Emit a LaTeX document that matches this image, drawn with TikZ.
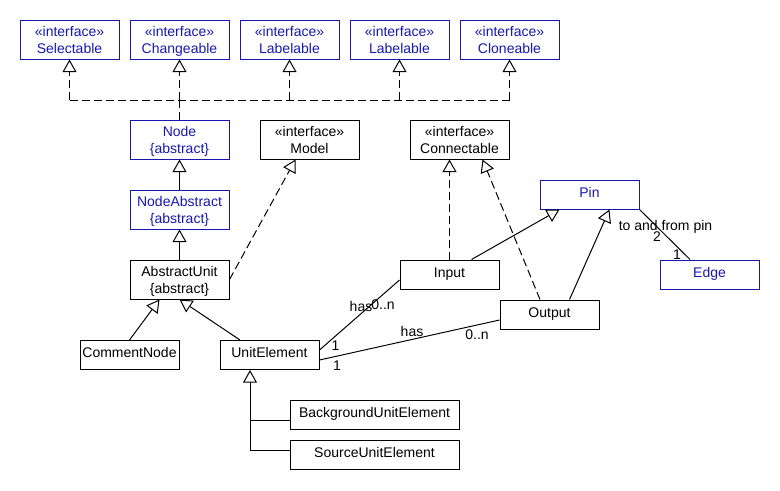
\documentclass[tikz,border=0pt]{standalone}
\usepackage{fontspec}
\setmainfont{Liberation Sans}
\usetikzlibrary{arrows.meta,calc}
\definecolor{umlblue}{RGB}{24,24,176}
\tikzset{
  x=0.75pt, y=-0.75pt,
  every node/.style={font=\fontsize{10.5}{12.5}\selectfont},
  box/.style={draw, line width=0.75pt, align=center, inner sep=0pt, minimum width=74.25pt, minimum height=29.25pt, text height=21.2pt, text depth=0pt},
  sbox/.style={draw, line width=0.75pt, inner sep=0pt, minimum width=74.25pt, minimum height=21.75pt, text height=5.8pt, text depth=2pt},
  wbox/.style={sbox, minimum width=126.75pt},
  bl/.style={draw=umlblue, text=umlblue},
  conn/.style={line width=0.75pt},
  dsh/.style={conn, dash pattern=on 6pt off 3pt},
  inh/.style={-{Triangle[open, width=10.5pt, length=9.5pt, line width=0.75pt, fill=white]}},
  lbl/.style={inner sep=0pt}
}
\begin{document}
\begin{tikzpicture}
\fill[white] (0,0) rectangle (780,490);
\useasboundingbox (0,0) rectangle (780,490);
% top interfaces
\node[box,bl] (sel) at (69.5,39.5) {«interface»\\Selectable};
\node[box,bl] (chg) at (179.5,39.5) {«interface»\\Changeable};
\node[box,bl] (lab1) at (289.5,39.5) {«interface»\\Labelable};
\node[box,bl] (lab2) at (399.5,39.5) {«interface»\\Labelable};
\node[box,bl] (cln) at (509.5,39.5) {«interface»\\Cloneable};
% second row
\node[box,bl] (node) at (179.5,139.5) {Node\\\{abstract\}};
\node[box] (model) at (309.5,139.5) {«interface»\\Model};
\node[box] (conn) at (459.5,139.5) {«interface»\\Connectable};
\node[box,bl] (nabs) at (179.5,209.5) {NodeAbstract\\\{abstract\}};
\node[box] (au) at (179.5,279.5) {AbstractUnit\\\{abstract\}};
\node[sbox,bl] (pin) at (589.5,194.5) {Pin};
\node[sbox,bl] (edge) at (709.5,274.5) {Edge};
\node[sbox] (in) at (449.5,274.5) {Input};
\node[sbox] (out) at (549.5,314.5) {Output};
\node[sbox] (cn) at (129.5,355) {CommentNode};
\node[sbox] (ue) at (269.5,355) {UnitElement};
\node[wbox] (bg) at (374.5,414.5) {BackgroundUnitElement};
\node[wbox] (src) at (374.5,454.5) {SourceUnitElement};
% interface realisation tree
\coordinate (j0) at (69.5,100);
\coordinate (j1) at (179.5,100);
\coordinate (j2) at (289.5,100);
\coordinate (j3) at (399.5,100);
\coordinate (j4) at (509.5,100);
\draw[dsh] (j0) -- (j4);
\draw[dsh] (node.north) -- (j1);
\draw[dsh,inh] (j0) -- (sel.south);
\draw[dsh,inh] (j1) -- (chg.south);
\draw[dsh,inh] (j2) -- (lab1.south);
\draw[dsh,inh] (j3) -- (lab2.south);
\draw[dsh,inh] (j4) -- (cln.south);
% inheritance
\draw[conn,inh] (nabs.north) -- (node.south);
\draw[conn,inh] (au.north) -- (nabs.south);
\draw[dsh,inh] (au.east) -- ($(model.south)+(-14,0)$);
\draw[conn,inh] (cn.north) -- ($(au.south)+(-20,0)$);
\draw[conn,inh] ($(ue.north)+(-29.5,0)$) -- (au.south);
\draw[dsh,inh] (in.north) -- (in.north |- conn.south);
\draw[dsh,inh] ($(out.north)+(-9.5,0)$) -- ($(conn.south)+(23,0)$);
\draw[conn,inh] ($(in.north)+(22,0)$) -- ($(pin.south)+(-30,0)$);
\draw[conn,inh] ($(out.north)+(20,0)$) -- ($(pin.south)+(20,0)$);
\coordinate (ueb) at ($(ue.south)+(-19.5,0)$);
\draw[conn] ($(bg.west)+(0,5.5)$) -| ($(ueb)+(0,12)$);
\draw[conn,inh] ($(src.west)+(0,-4.5)$) -| (ueb);
% associations
\draw[conn] (pin.south east) -- ($(edge.north)+(-19.5,0)$);
\draw[conn] ($(ue.east)+(0,-5)$) -- ($(in.west)+(0,5.5)$);
\draw[conn] ($(ue.east)+(0,5)$) -- ($(out.west)+(0,5.5)$);
% labels
\node[lbl] (l1) at (665.5,227) {to and from pin};
\node[lbl] (l2) at (657,237) {2};
\node[lbl] (l3) at (677,255) {1};
\node[lbl] (l4) at (361,306) {has};
\node[lbl] (l5) at (383,305) {0..n};
\node[lbl] (l6) at (335.5,346) {1};
\node[lbl] (l7) at (337,366) {1};
\node[lbl] (l8) at (412,331) {has};
\node[lbl] (l9) at (477,335) {0..n};
\end{tikzpicture}
\end{document}
